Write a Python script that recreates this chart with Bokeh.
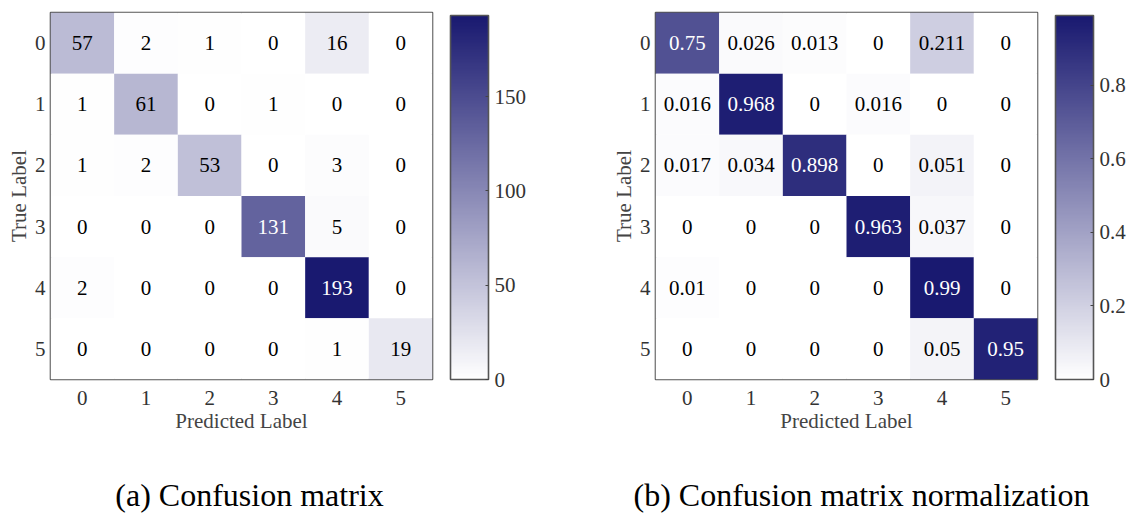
from bokeh.plotting import figure
from bokeh.models import (ColumnDataSource, LinearColorMapper, ColorBar, FixedTicker,
                          Range1d, Row, Column)
from bokeh.core.properties import value
from bokeh.embed import file_html
from bokeh.resources import INLINE

# ---------------- data ----------------
class_labels = ["0", "1", "2", "3", "4", "5"]

cm_counts = [
    [57, 2, 1, 0, 16, 0],
    [1, 61, 0, 1, 0, 0],
    [1, 2, 53, 0, 3, 0],
    [0, 0, 0, 131, 5, 0],
    [2, 0, 0, 0, 193, 0],
    [0, 0, 0, 0, 1, 19],
]

cm_norm = [
    [0.75, 0.026, 0.013, 0, 0.211, 0],
    [0.016, 0.968, 0, 0.016, 0, 0],
    [0.017, 0.034, 0.898, 0, 0.051, 0],
    [0, 0, 0, 0.963, 0.037, 0],
    [0.01, 0, 0, 0, 0.99, 0],
    [0, 0, 0, 0, 0.05, 0.95],
]

counts_cbar_ticks = [0, 50, 100, 150]
norm_cbar_ticks = [0, 0.2, 0.4, 0.6, 0.8]

captions = ["(a) Confusion matrix", "(b) Confusion matrix normalization"]
x_title = "Predicted Label"
y_title = "True Label"

# ---------------- style ----------------
FONT = "Liberation Serif"
LO = (255, 255, 255)
HI = (25, 25, 112)
palette = ["#%02x%02x%02x" % tuple(int(round(LO[k] + (HI[k] - LO[k]) * i / 255)) for k in range(3))
           for i in range(256)]


def fmt(v):
    if isinstance(v, int):
        return str(v)
    return "%g" % v


def panel(matrix, cbar_ticks, right_border):
    n = len(class_labels)
    high = max(max(r) for r in matrix)
    xs, ys, vals, txt, tcol = [], [], [], [], []
    for i in range(n):
        for j in range(n):
            v = matrix[i][j]
            xs.append(j)
            ys.append(i)
            vals.append(v)
            txt.append(fmt(v))
            tcol.append("white" if v > high / 2 else "black")
    src = ColumnDataSource(dict(x=xs, y=ys, v=vals, t=txt, c=tcol))
    mapper = LinearColorMapper(palette=palette, low=0, high=high)

    p = figure(frame_width=382, frame_height=367, output_backend="svg", toolbar_location=None,
               x_range=Range1d(-0.5, n - 0.5), y_range=Range1d(n - 0.5, -0.5),
               min_border_left=50, min_border_top=12, min_border_bottom=75,
               min_border_right=right_border)
    p.rect("x", "y", width=1, height=1, source=src,
           fill_color={"field": "v", "transform": mapper}, line_color=None)
    p.text("x", "y", text="t", source=src, text_color="c",
           text_font=value(FONT), text_font_size="21px",
           text_align="center", text_baseline="middle")

    p.xgrid.visible = False
    p.ygrid.visible = False
    p.outline_line_color = "#555555"
    p.outline_line_width = 1.6
    p.background_fill_color = "white"
    p.border_fill_color = "white"

    for ax in (p.xaxis[0], p.yaxis[0]):
        ax.ticker = FixedTicker(ticks=list(range(n)))
        ax.major_label_overrides = {k: class_labels[k] for k in range(n)}
        ax.axis_line_color = None
        ax.major_tick_line_color = None
        ax.minor_tick_line_color = None
        ax.major_tick_out = 0
        ax.major_tick_in = 0
        ax.major_label_text_font = FONT
        ax.major_label_text_font_size = "21px"
        ax.major_label_text_color = "#333333"
        ax.axis_label_text_font = FONT
        ax.axis_label_text_font_size = "21px"
        ax.axis_label_text_font_style = "normal"
        ax.axis_label_text_color = "#444444"
        ax.major_label_standoff = 5
        ax.axis_label_standoff = 1
    p.xaxis[0].axis_label = x_title
    p.yaxis[0].axis_label = y_title
    p.xaxis[0].major_label_standoff = 11
    p.xaxis[0].axis_label_standoff = 1

    cb = ColorBar(color_mapper=mapper, ticker=FixedTicker(ticks=cbar_ticks),
                  width=38, height=364, padding=0, margin=0,
                  location=(18, 0),
                  bar_line_color="#555555", bar_line_width=1.6,
                  major_tick_in=3, major_tick_out=0,
                  major_tick_line_color="#444444", major_tick_line_width=1,
                  minor_tick_line_color=None,
                  label_standoff=6,
                  major_label_text_font=FONT, major_label_text_font_size="21px",
                  major_label_text_color="#333333",
                  background_fill_color=None, border_line_color=None)
    p.add_layout(cb, "right")
    return p


p1 = panel(cm_counts, counts_cbar_ticks, 173)
p2 = panel(cm_norm, norm_cbar_ticks, 90)

cap = figure(frame_width=1127, frame_height=60, output_backend="svg", toolbar_location=None,
             x_range=Range1d(0, 1127), y_range=Range1d(0, 60),
             min_border=0)
cap.axis.visible = False
cap.xgrid.visible = False
cap.ygrid.visible = False
cap.outline_line_color = None
cap.text(x=[249, 861], y=[20, 20], text=captions, text_font=value(FONT),
         text_font_size="32px", text_color="black",
         text_align="center", text_baseline="middle")

layout = Column(children=[Row(children=[p1, p2], spacing=0), cap], spacing=0)

with open("out.html", "w") as f:
    f.write(file_html(layout, INLINE))
